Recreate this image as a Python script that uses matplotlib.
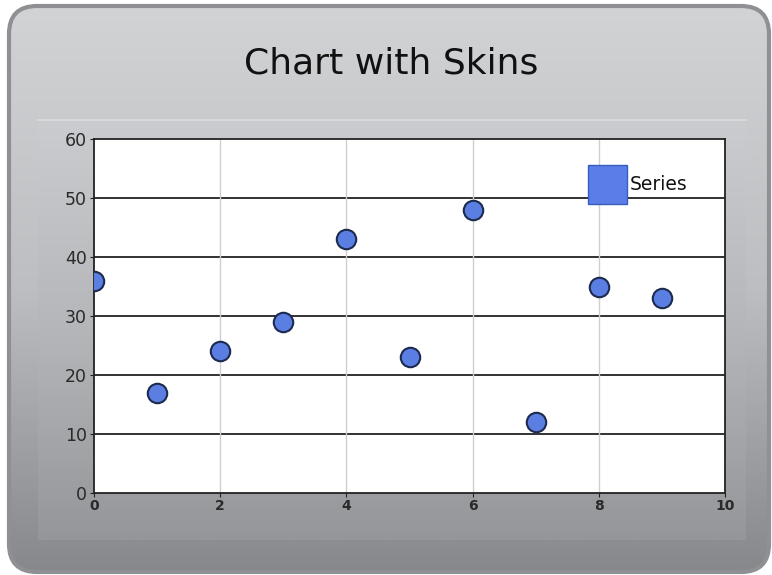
import numpy as np
import matplotlib
matplotlib.use("Agg")
import matplotlib.pyplot as plt
from matplotlib.patches import FancyBboxPatch, Rectangle

# datos
x_vals = [0, 1, 2, 3, 4, 5, 6, 7, 8, 9]
y_vals = [36, 17, 24, 29, 43, 23, 48, 12, 35, 33]
x_ticks = [0, 2, 4, 6, 8, 10]
y_ticks = [0, 10, 20, 30, 40, 50, 60]
titulo = "Chart with Skins"
serie = "Series"

W, H = 772, 575
fig = plt.figure(figsize=(W / 100, H / 100), dpi=100)
fig.patch.set_facecolor("white")

# fondo con degradado
bg = fig.add_axes([0, 0, 1, 1])
bg.set_xlim(0, W)
bg.set_ylim(H, 0)
bg.axis("off")

grad = np.linspace(0, 1, 256).reshape(-1, 1)
cmap_out = matplotlib.colors.LinearSegmentedColormap.from_list("o", ["#d2d3d5", "#bdbec1", "#86888b"])
marco = FancyBboxPatch((9, 6), W - 12, H - 9, boxstyle="round,pad=0,rounding_size=28",
                       facecolor="none", edgecolor="#8e9093", linewidth=3, zorder=3)
bg.add_patch(marco)
img = bg.imshow(grad, cmap=cmap_out, extent=(9, W - 3, H - 3, 6), aspect="auto", zorder=1)
img.set_clip_path(marco)

cmap_in = matplotlib.colors.LinearSegmentedColormap.from_list("i", ["#cbcccf", "#b5b6b9", "#949699"])
bg.imshow(grad, cmap=cmap_in, extent=(38, 746, 540, 120), aspect="auto", zorder=2)
bg.plot([38, 746], [120, 120], color="#d8d9db", lw=1.5, zorder=2)

bg.text(391, 64, titulo, fontsize=26, ha="center", va="center", color="#111111", zorder=4)

# grafico
ax = fig.add_axes([94 / W, 1 - 493 / H, (725 - 94) / W, (493 - 139) / H])
ax.set_facecolor("white")
ax.set_xlim(0, 10)
ax.set_ylim(0, 60)
ax.set_xticks(x_ticks)
ax.set_yticks(y_ticks)
for yv in y_ticks[1:-1]:
    ax.axhline(yv, color="#222222", lw=1.3, zorder=1)
for xv in x_ticks[1:-1]:
    ax.axvline(xv, color="#cfcfcf", lw=1.0, zorder=1)
for s in ax.spines.values():
    s.set_color("#222222")
    s.set_linewidth(1.3)
ax.tick_params(axis="both", length=3, color="#222222", direction="out")
ax.tick_params(axis="y", labelsize=12.5, pad=2, labelcolor="#2a2a2a")
ax.tick_params(axis="x", labelsize=10, pad=1, labelcolor="#2a2a2a")
for lb in ax.get_xticklabels():
    lb.set_fontweight("bold")

ax.plot(x_vals, y_vals, linestyle="none", marker="o", markersize=14,
        markerfacecolor="#5b7ee2", markeredgecolor="#1c2a4e", markeredgewidth=1.5,
        zorder=3, clip_on=True)

# leyenda (dibujada encima del area del grafico)
ax.add_patch(Rectangle((588, 165), 39, 39, facecolor="#5b7ee6", edgecolor="#3a5cc0", lw=1,
                       transform=bg.transData, clip_on=False, zorder=6))
ax.text(630, 185, serie, fontsize=13.5, ha="left", va="center", color="#111111",
        transform=bg.transData, zorder=6)

fig.savefig("out.png", dpi=100)
